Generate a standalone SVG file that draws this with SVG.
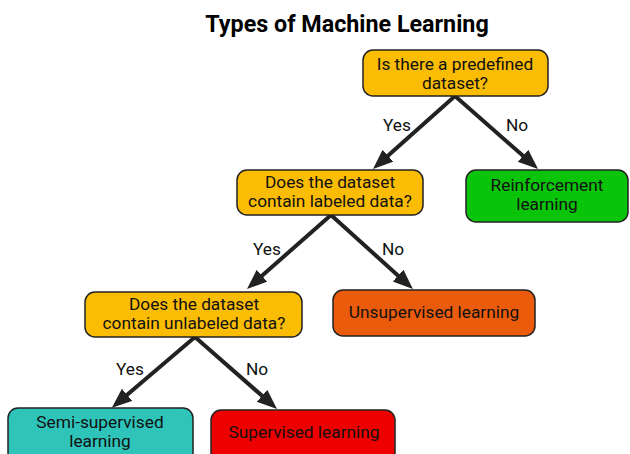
<svg xmlns="http://www.w3.org/2000/svg" width="630" height="454" viewBox="0 0 630 454">
<style>
.box{stroke:#222;stroke-width:1.5}
.t{font-family:Roboto,"Liberation Sans",sans-serif;font-size:17.3px;fill:#111;text-anchor:middle}
.title{font-family:Roboto,"Liberation Sans",sans-serif;font-size:23.3px;font-weight:bold;fill:#000;text-anchor:middle}
.arr{stroke:#222;stroke-width:4;fill:none}
</style>
<defs>
<marker id="ah" markerUnits="userSpaceOnUse" markerWidth="22" markerHeight="18" refX="8" refY="8" orient="auto">
<path d="M0,0 L20,8 L0,16 z" fill="#222"/>
</marker>
</defs>
<rect width="630" height="454" fill="#fff"/>
<text class="title" x="347" y="32">Types of Machine Learning</text>
<g id="connectors">
<line class="arr" x1="455" y1="96" x2="382" y2="161" marker-end="url(#ah)"/>
<line class="arr" x1="455" y1="96" x2="529" y2="161" marker-end="url(#ah)"/>
<line class="arr" x1="331" y1="215" x2="256" y2="281" marker-end="url(#ah)"/>
<line class="arr" x1="331" y1="215" x2="404" y2="281" marker-end="url(#ah)"/>
<line class="arr" x1="195" y1="337" x2="121" y2="400" marker-end="url(#ah)"/>
<line class="arr" x1="195" y1="337" x2="268" y2="401" marker-end="url(#ah)"/>
<text class="t" x="397" y="131">Yes</text>
<text class="t" x="517" y="131">No</text>
<text class="t" x="267" y="255">Yes</text>
<text class="t" x="393" y="255">No</text>
<text class="t" x="130" y="375">Yes</text>
<text class="t" x="257" y="375">No</text>
</g>
<g id="n1">
<rect class="box" x="363" y="50" width="185" height="46" rx="10" fill="#FBBC04"/>
<text class="t" x="455" y="70">Is there a predefined</text>
<text class="t" x="455" y="89">dataset?</text>
</g>
<g id="n2">
<rect class="box" x="237" y="170" width="186" height="45" rx="10" fill="#FBBC04"/>
<text class="t" x="330" y="188">Does the dataset</text>
<text class="t" x="330" y="207">contain labeled data?</text>
</g>
<g id="n3">
<rect class="box" x="466" y="170" width="162" height="52" rx="10" fill="#0AC40A"/>
<text class="t" x="547" y="191">Reinforcement</text>
<text class="t" x="547" y="210">learning</text>
</g>
<g id="n4">
<rect class="box" x="85" y="292" width="217" height="45" rx="10" fill="#FBBC04"/>
<text class="t" x="194" y="310">Does the dataset</text>
<text class="t" x="194" y="329">contain unlabeled data?</text>
</g>
<g id="n5">
<rect class="box" x="333" y="290" width="202" height="46" rx="10" fill="#EA5B0C"/>
<text class="t" x="434" y="318">Unsupervised learning</text>
</g>
<g id="n6">
<rect class="box" x="8" y="408" width="185" height="56" rx="10" fill="#2EC4BA"/>
<text class="t" x="100" y="428">Semi-supervised</text>
<text class="t" x="100" y="447">learning</text>
</g>
<g id="n7">
<rect class="box" x="211" y="410" width="184" height="56" rx="10" fill="#EE0000"/>
<text class="t" x="304" y="438">Supervised learning</text>
</g>
</svg>
